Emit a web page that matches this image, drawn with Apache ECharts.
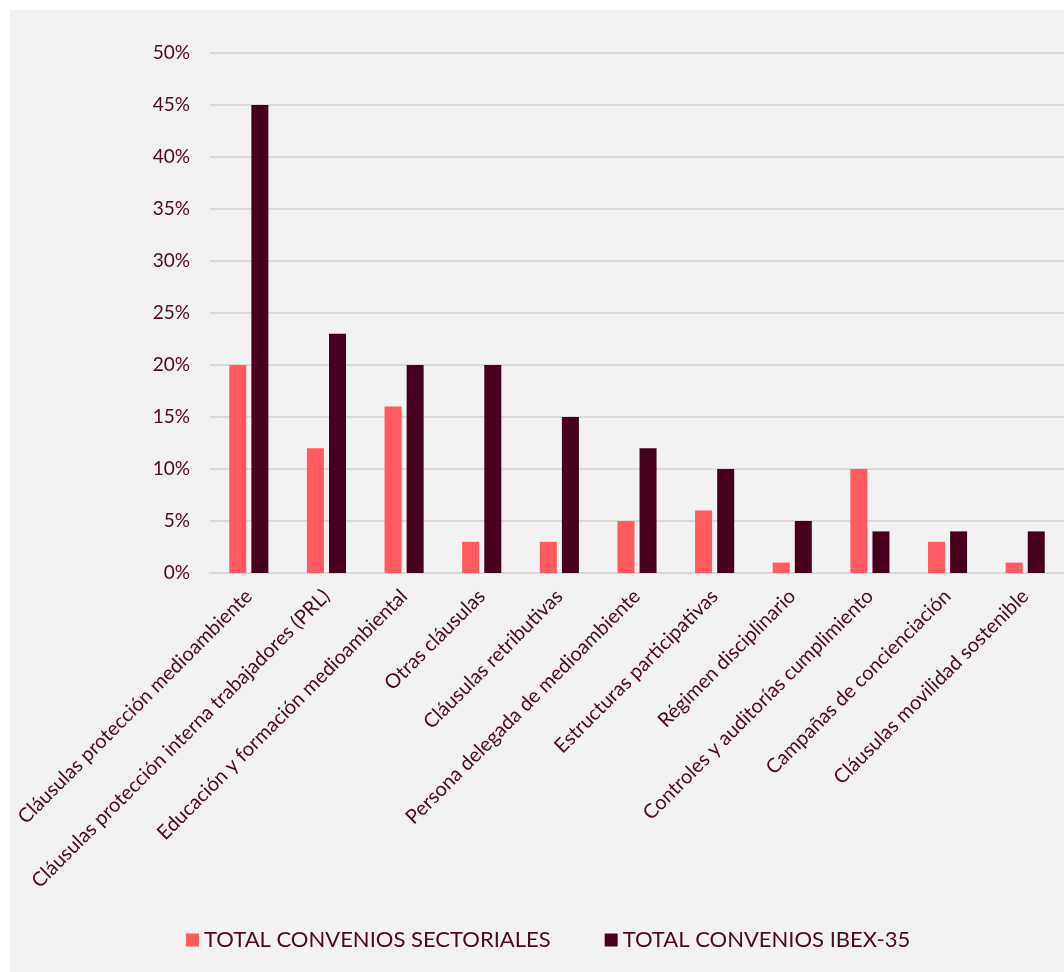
<!DOCTYPE html>
<html>
<head>
<meta charset="utf-8">
<script src="https://cdn.jsdelivr.net/npm/echarts@6/dist/echarts.min.js"></script>
<style>
  html, body { margin: 0; padding: 0; background: #ffffff; }
  #chart { position: absolute; left: 10px; top: 10px; width: 1054px; height: 962px; }
</style>
</head>
<body>
<div id="chart"></div>
<script>
// Categories of clauses found in the agreements
const categories = [
  'Cláusulas protección medioambiente',
  'Cláusulas protección interna trabajadores (PRL)',
  'Educación y formación medioambiental',
  'Otras cláusulas',
  'Cláusulas retributivas',
  'Persona delegada de medioambiente',
  'Estructuras participativas',
  'Régimen disciplinario',
  'Controles y auditorías cumplimiento',
  'Campañas de concienciación',
  'Cláusulas movilidad sostenible'
];

// Share of agreements (%) per series
const seriesNames = ['TOTAL CONVENIOS SECTORIALES', 'TOTAL CONVENIOS IBEX-35'];
const sectoriales = [20, 12, 16, 3, 3, 5, 6, 1, 10, 3, 1];
const ibex35 = [45, 23, 20, 20, 15, 12, 10, 5, 4, 4, 4];

// Value axis ticks
const yMin = 0;
const yMax = 50;
const yStep = 5;

const textColor = '#4a0a24';
const fontFamily = 'Lato, "Open Sans", sans-serif';

const chart = echarts.init(document.getElementById('chart'));
chart.setOption({
  backgroundColor: '#f2f2f2',
  animation: false,
  textStyle: { fontFamily: fontFamily, color: textColor },
  legend: {
    data: seriesNames,
    left: 176,
    top: 919,
    padding: 0,
    itemWidth: 13,
    itemHeight: 13,
    itemGap: 54,
    icon: 'rect',
    textStyle: { fontSize: 22, color: textColor, fontFamily: fontFamily }
  },
  grid: { left: 200, top: 43, width: 857, height: 520, containLabel: false },
  xAxis: {
    type: 'category',
    data: categories,
    axisTick: { show: false },
    axisLine: { show: true, lineStyle: { color: '#d9d9d9', width: 2 } },
    axisLabel: {
      interval: 0,
      rotate: 45,
      margin: 20,
      fontSize: 20,
      color: textColor,
      fontFamily: fontFamily
    }
  },
  yAxis: {
    type: 'value',
    min: yMin,
    max: yMax,
    interval: yStep,
    axisLine: { show: false },
    axisTick: { show: false },
    splitLine: { lineStyle: { color: '#d9d9d9', width: 2 } },
    axisLabel: {
      margin: 20,
      fontSize: 19,
      color: textColor,
      fontFamily: fontFamily,
      formatter: v => v + '%'
    }
  },
  series: [
    {
      name: seriesNames[0],
      type: 'bar',
      data: sectoriales,
      barWidth: 17,
      barGap: '30%',
      itemStyle: { color: '#ff5a5f' }
    },
    {
      name: seriesNames[1],
      type: 'bar',
      data: ibex35,
      barWidth: 17,
      barGap: '30%',
      itemStyle: { color: '#46001e' }
    }
  ]
});
</script>
</body>
</html>
